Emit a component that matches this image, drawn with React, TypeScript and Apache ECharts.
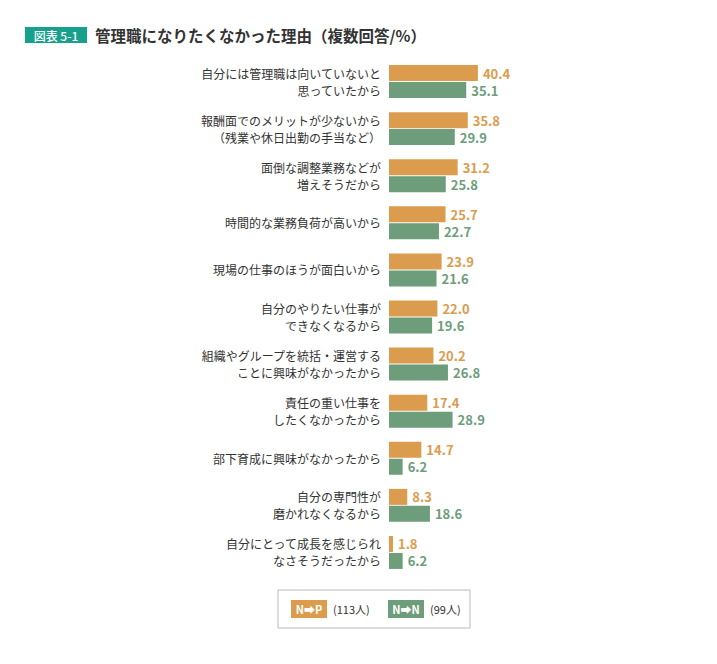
import React, { useEffect, useRef } from "react";
import * as echarts from "echarts";

const categories = [
  "自分には管理職は向いていないと\n思っていたから",
  "報酬面でのメリットが少ないから\n（残業や休日出勤の手当など）",
  "面倒な調整業務などが\n増えそうだから",
  "時間的な業務負荷が高いから",
  "現場の仕事のほうが面白いから",
  "自分のやりたい仕事が\nできなくなるから",
  "組織やグループを統括・運営する\nことに興味がなかったから",
  "責任の重い仕事を\nしたくなかったから",
  "部下育成に興味がなかったから",
  "自分の専門性が\n磨かれなくなるから",
  "自分にとって成長を感じられ\nなさそうだったから",
];
const seriesNP = [40.4, 35.8, 31.2, 25.7, 23.9, 22.0, 20.2, 17.4, 14.7, 8.3, 1.8];
const seriesNN = [35.1, 29.9, 25.8, 22.7, 21.6, 19.6, 26.8, 28.9, 6.2, 18.6, 6.2];
const legendNames = ["N➡P", "N➡N"];
const legendCounts = ["(113人)", "(99人)"];

const ORANGE = "#DB9C4D";
const GREEN = "#6D9D7B";
const FONT = "'Noto Sans CJK JP', 'Noto Sans', sans-serif";

export default function App() {
  const ref = useRef<HTMLDivElement>(null);
  useEffect(() => {
    const chart = echarts.init(ref.current!, null, { renderer: "svg" });
    const labelCfg = (color: string) => ({
      show: true,
      position: "right" as const,
      distance: 5,
      color,
      fontWeight: "bold" as const,
      fontSize: 13,
      fontFamily: FONT,
      formatter: (p: any) => p.value.toFixed(1),
    });
    chart.setOption({
      animation: false,
      textStyle: { fontFamily: FONT },
      grid: { left: 381, top: 50, width: 110, height: 518, containLabel: false },
      xAxis: {
        type: "value",
        min: 0,
        max: 50,
        show: false,
      },
      yAxis: {
        type: "category",
        data: categories,
        inverse: true,
        axisLine: { show: false },
        axisTick: { show: false },
        axisLabel: {
          color: "#333",
          fontSize: 12,
          lineHeight: 17,
          margin: 8,
          align: "right",
          fontFamily: FONT,
        },
      },
      series: [
        {
          name: legendNames[0],
          type: "bar",
          data: seriesNP,
          barWidth: 16,
          barGap: "6%",
          itemStyle: { color: ORANGE },
          label: labelCfg(ORANGE),
        },
        {
          name: legendNames[1],
          type: "bar",
          data: seriesNN,
          barWidth: 16,
          itemStyle: { color: GREEN },
          label: labelCfg(GREEN),
        },
      ],
      graphic: [
        {
          type: "rect",
          shape: { x: 17, y: 19, width: 62, height: 16 },
          style: { fill: "#17A08B" },
        },
        {
          type: "text",
          x: 48,
          y: 27,
          style: {
            text: "図表 5-1",
            fill: "#fff",
            fontSize: 12,
            fontWeight: 500,
            fontFamily: FONT,
            align: "center",
            verticalAlign: "middle",
          },
        },
        {
          type: "text",
          x: 87,
          y: 27,
          style: {
            text: "管理職になりたくなかった理由（複数回答/%）",
            fill: "#333",
            fontSize: 15.5,
            fontWeight: "bold",
            fontFamily: FONT,
            verticalAlign: "middle",
          },
        },
        {
          type: "rect",
          shape: { x: 270, y: 582, width: 192, height: 38 },
          style: { fill: "none", stroke: "#bbb", lineWidth: 1 },
        },
        {
          type: "rect",
          shape: { x: 283, y: 592, width: 36, height: 18 },
          style: { fill: ORANGE },
        },
        {
          type: "text",
          x: 301,
          y: 601,
          style: {
            text: legendNames[0],
            fill: "#fff",
            fontSize: 11,
            fontWeight: "bold",
            fontFamily: FONT,
            align: "center",
            verticalAlign: "middle",
          },
        },
        {
          type: "text",
          x: 325,
          y: 601,
          style: {
            text: legendCounts[0],
            fill: "#333",
            fontSize: 11,
            fontFamily: FONT,
            verticalAlign: "middle",
          },
        },
        {
          type: "rect",
          shape: { x: 380, y: 592, width: 36, height: 18 },
          style: { fill: GREEN },
        },
        {
          type: "text",
          x: 398,
          y: 601,
          style: {
            text: legendNames[1],
            fill: "#fff",
            fontSize: 11,
            fontWeight: "bold",
            fontFamily: FONT,
            align: "center",
            verticalAlign: "middle",
          },
        },
        {
          type: "text",
          x: 422,
          y: 601,
          style: {
            text: legendCounts[1],
            fill: "#333",
            fontSize: 11,
            fontFamily: FONT,
            verticalAlign: "middle",
          },
        },
      ],
    });
    return () => chart.dispose();
  }, []);
  return <div ref={ref} style={{ width: 701, height: 648 }} />;
}
